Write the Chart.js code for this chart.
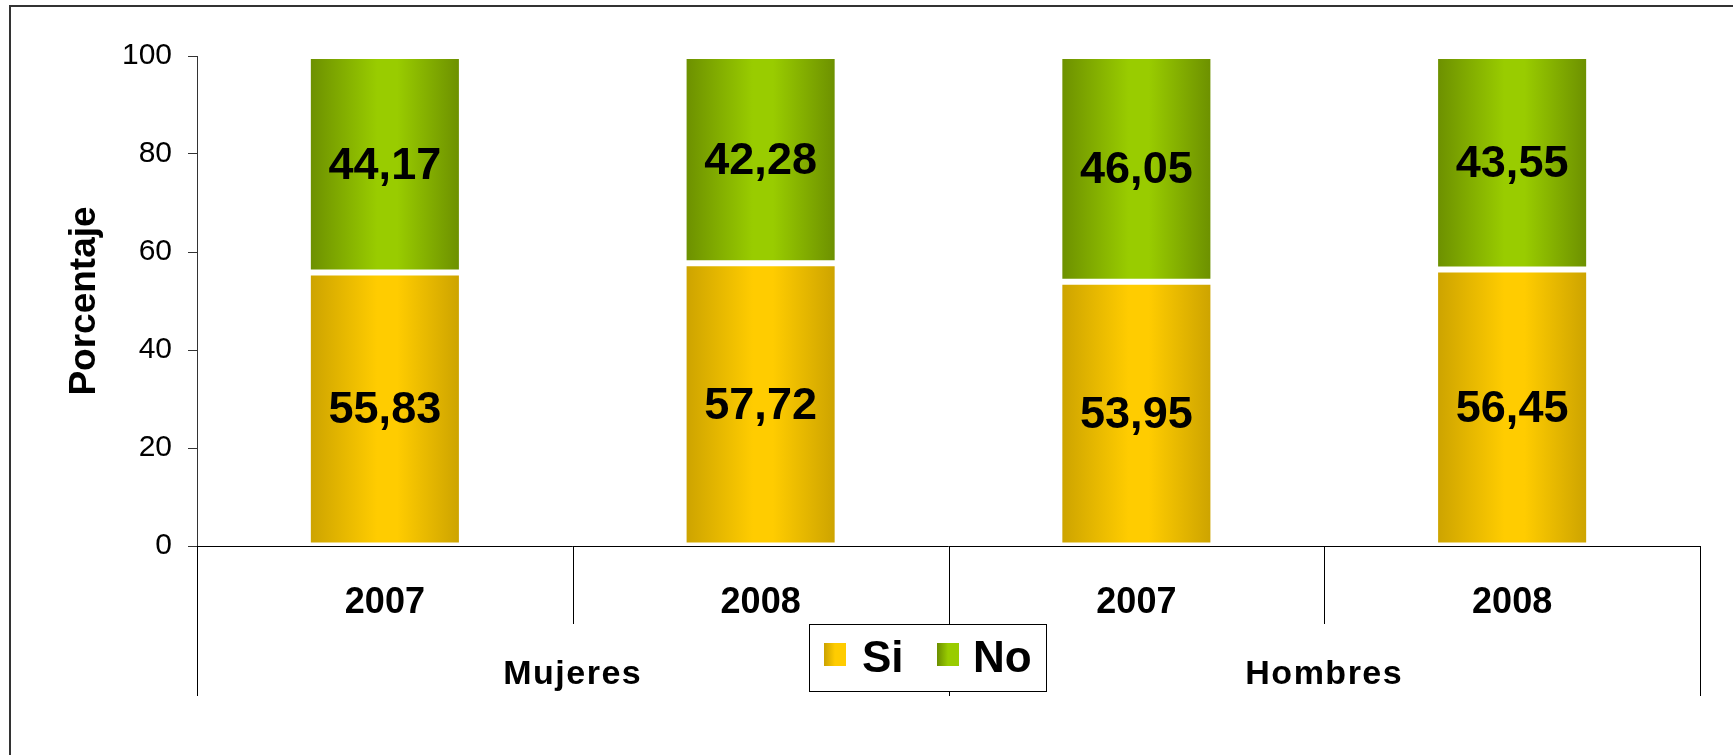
<!DOCTYPE html>
<html><head><meta charset="utf-8">
<script src="https://cdn.jsdelivr.net/npm/chart.js@4/dist/chart.umd.min.js"></script>
<style>html,body{margin:0;padding:0;background:#fff;overflow:hidden}#wrap{width:1733px;height:755px;position:relative}</style>
</head><body><div id="wrap"><canvas id="c" width="1733" height="755"></canvas></div>
<script>
const years = ['2007', '2008', '2007', '2008'];
const groups = ['Mujeres', 'Hombres'];
const groupSpan = 2;
const seriesNames = ['Si', 'No'];
const siValues = [55.83, 57.72, 53.95, 56.45];
const noValues = [44.17, 42.28, 46.05, 43.55];
const yTicks = [0, 20, 40, 60, 80, 100];

const FAM = "'Liberation Sans', Arial, sans-serif";
const BAR_PCT = 0.41;
const palette = {
  Si: { dark: '#CBA200', bright: '#FFCC00' },
  No: { dark: '#6B8E00', bright: '#99CC00' }
};

function grad(ctx, name) {
  const p = palette[name];
  const chart = ctx.chart;
  const x = chart.scales && chart.scales.x;
  if (!chart.chartArea || !x || ctx.dataIndex === undefined) return p.bright;
  const c = x.getPixelForValue(ctx.dataIndex);
  const w = (chart.chartArea.right - chart.chartArea.left) / years.length * BAR_PCT;
  const g = chart.ctx.createLinearGradient(c - w / 2, 0, c + w / 2, 0);
  g.addColorStop(0, p.dark);
  g.addColorStop(0.45, p.bright);
  g.addColorStop(0.58, p.bright);
  g.addColorStop(1, p.dark);
  return g;
}

const decor = {
  id: 'decor',
  beforeDraw(chart) {
    const c = chart.ctx;
    c.save();
    c.fillStyle = '#fff';
    c.fillRect(0, 0, chart.width, chart.height);
    c.restore();
  },
  afterDraw(chart) {
    const c = chart.ctx;
    const a = chart.chartArea;
    const x = chart.scales.x;
    const n = years.length;
    const cw = (a.right - a.left) / n;
    c.save();
    // outer frame
    c.strokeStyle = '#333';
    c.lineWidth = 2;
    c.strokeRect(10, 6, chart.width + 50, chart.height + 50);
    // baseline
    c.strokeStyle = '#000';
    c.lineWidth = 1;
    c.beginPath();
    c.moveTo(a.left, Math.round(a.bottom) + 0.5);
    c.lineTo(a.right, Math.round(a.bottom) + 0.5);
    c.stroke();
    // dividers
    for (let i = 0; i <= n; i++) {
      const px = Math.round(a.left + i * cw) + 0.5;
      const long = (i % groupSpan === 0);
      c.beginPath();
      c.moveTo(px, a.bottom);
      c.lineTo(px, long ? a.bottom + 150 : a.bottom + 78);
      c.stroke();
    }
    // year labels
    c.fillStyle = '#000';
    c.textAlign = 'center';
    c.textBaseline = 'middle';
    c.font = 'bold 36px ' + FAM;
    years.forEach((y, i) => c.fillText(y, x.getPixelForValue(i), a.bottom + 57));
    // group labels
    c.font = 'bold 34px ' + FAM;
    c.letterSpacing = '1.5px';
    groups.forEach((g, gi) => {
      const gx = a.left + (gi * groupSpan + groupSpan / 2) * cw;
      c.fillText(g, gx, a.bottom + 129);
    });
    c.letterSpacing = '0px';
    // data labels
    c.font = 'bold 45px ' + FAM;
    chart.data.datasets.forEach((ds, di) => {
      const meta = chart.getDatasetMeta(di);
      meta.data.forEach((el, i) => {
        const v = ds.data[i];
        c.fillText(v.toFixed(2).replace('.', ','), el.x, (el.y + el.base) / 2 + 2);
      });
    });
    // legend
    const lx = 809, ly = 624, lw = 237, lh = 67;
    c.fillStyle = '#fff';
    c.fillRect(lx, ly, lw, lh);
    c.strokeStyle = '#000';
    c.lineWidth = 1;
    c.strokeRect(lx + 0.5, ly + 0.5, lw, lh);
    c.font = 'bold 44px ' + FAM;
    c.textAlign = 'left';
    const items = [{ sx: 824, tx: 862 }, { sx: 937, tx: 973 }];
    chart.data.datasets.forEach((ds, di) => {
      const it = items[di];
      const p = palette[ds.label];
      const g = c.createLinearGradient(it.sx, 0, it.sx + 22, 0);
      g.addColorStop(0, p.dark); g.addColorStop(0.5, p.bright); g.addColorStop(1, p.bright);
      c.fillStyle = g;
      c.fillRect(it.sx, 643, 22, 23);
      c.fillStyle = '#000';
      c.fillText(ds.label, it.tx, 660);
    });
    c.restore();
  }
};

new Chart(document.getElementById('c'), {
  type: 'bar',
  data: {
    labels: years,
    datasets: [
      { label: seriesNames[0], data: siValues, backgroundColor: ctx => grad(ctx, 'Si'),
        borderColor: '#fff', borderWidth: 3, borderSkipped: false,
        barPercentage: BAR_PCT, categoryPercentage: 1 },
      { label: seriesNames[1], data: noValues, backgroundColor: ctx => grad(ctx, 'No'),
        borderColor: '#fff', borderWidth: 3, borderSkipped: false,
        barPercentage: BAR_PCT, categoryPercentage: 1 }
    ]
  },
  options: {
    responsive: false,
    animation: false,
    devicePixelRatio: 1,
    layout: { padding: { left: 10, right: 33, top: 56, bottom: 0 } },
    plugins: { legend: { display: false }, tooltip: { enabled: false } },
    scales: {
      x: {
        stacked: true,
        ticks: { display: false },
        grid: { display: false },
        border: { display: false },
        afterFit: s => { s.height = 209; }
      },
      y: {
        stacked: true, min: 0, max: 100,
        afterBuildTicks: s => { s.ticks = yTicks.map(v => ({ value: v })); },
        ticks: { font: { size: 30, family: FAM }, color: '#000', padding: 16 },
        grid: { drawOnChartArea: false, tickLength: 9, color: '#333' },
        border: { color: '#333', width: 1 },
        title: { display: true, text: 'Porcentaje', color: '#000',
          font: { size: 37, weight: 'bold', family: FAM }, padding: { top: 53 } },
        afterFit: s => { s.width = 187; }
      }
    }
  },
  plugins: [decor]
});
</script></body></html>
